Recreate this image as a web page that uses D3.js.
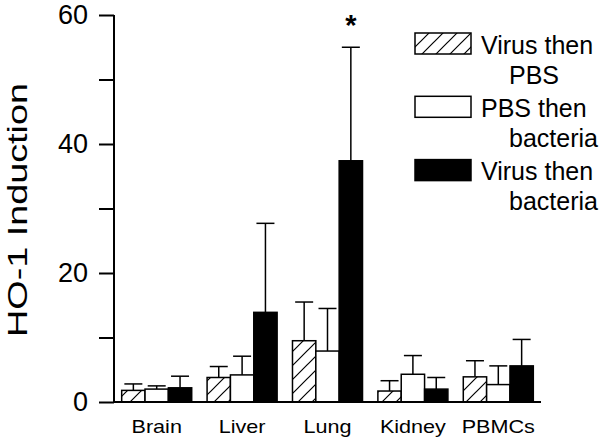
<!DOCTYPE html>
<html>
<head>
<meta charset="utf-8">
<script src="https://cdn.jsdelivr.net/npm/d3@7"></script>
<style>
	body { margin: 0; background: #fff; }
	text { font-family: "Liberation Sans", Arial, sans-serif; fill: #000; }
</style>
</head>
<body>
<div id="chart"></div>
<script>
// tissue groups along the x axis
var categories = ["Brain", "Liver", "Lung", "Kidney", "PBMCs"];

// treatment groups
var series = ["Virus then PBS", "PBS then bacteria", "Virus then bacteria"];

// legend text, broken the same way as the figure
var legendLines = [["Virus then", "PBS"], ["PBS then", "bacteria"], ["Virus then", "bacteria"]];

// mean HO-1 induction per tissue, one array per treatment
var virusPBS = [1.8, 3.8, 9.5, 1.7, 3.9];
var pbsBacteria = [2.0, 4.2, 7.9, 4.3, 2.7];
var virusBacteria = [2.2, 13.9, 37.4, 2.0, 5.6];

// upper error (SEM) per tissue
var virusPBSErr = [1.0, 1.7, 6.0, 1.6, 2.5];
var pbsBacteriaErr = [0.5, 2.9, 6.6, 2.9, 2.9];
var virusBacteriaErr = [1.8, 13.8, 17.6, 1.8, 4.1];

// y axis ticks, labels only on every other one
var yTicks = [0, 10, 20, 30, 40, 50, 60];
var yLabelled = [0, 20, 40, 60];

// significance marker
var starCategory = "Lung";
var starSeries = 2;

var width = 600, height = 442;
var means = [virusPBS, pbsBacteria, virusBacteria];
var errs = [virusPBSErr, pbsBacteriaErr, virusBacteriaErr];

var svg = d3.select("#chart").append("svg")
	.attr("width", width)
	.attr("height", height);

// hatch pattern for the first treatment
var pat = svg.append("defs").append("pattern")
	.attr("id", "hatch")
	.attr("patternUnits", "userSpaceOnUse")
	.attr("width", 14)
	.attr("height", 14);
pat.append("rect").attr("width", 14).attr("height", 14).attr("fill", "#fff");
pat.append("path")
	.attr("d", "M-2,2 L2,-2 M0,14 L14,0 M12,16 L16,12")
	.attr("stroke", "#000")
	.attr("stroke-width", 1.2);

var fills = ["url(#hatch)", "#fff", "#000"];

// scales
var y = d3.scaleLinear().domain([0, 60]).range([402, 15]);
var x0 = d3.scaleBand().domain(categories).range([114, 541])
	.paddingInner(0.18).paddingOuter(0.09);
var x1 = d3.scaleBand().domain(d3.range(series.length)).range([0, x0.bandwidth()]);

// build flat rows for drawing
var rows = [];
categories.forEach(function (c, i) {
	series.forEach(function (s, j) {
		rows.push({ cat: c, s: j, v: means[j][i], e: errs[j][i] });
	});
});

// error bars first so the bar covers the stem
var eb = svg.append("g").attr("stroke", "#000").attr("stroke-width", 1.5);
rows.forEach(function (d) {
	var cx = x0(d.cat) + x1(d.s) + x1.bandwidth() / 2;
	eb.append("line")
		.attr("x1", cx).attr("x2", cx)
		.attr("y1", y(d.v)).attr("y2", y(d.v + d.e));
	eb.append("line")
		.attr("x1", cx - 9).attr("x2", cx + 9)
		.attr("y1", y(d.v + d.e)).attr("y2", y(d.v + d.e));
});

// bars
svg.append("g").selectAll("rect")
	.data(rows)
	.enter().append("rect")
	.attr("x", function (d) { return x0(d.cat) + x1(d.s); })
	.attr("y", function (d) { return y(d.v); })
	.attr("width", x1.bandwidth())
	.attr("height", function (d) { return y(0) - y(d.v); })
	.attr("fill", function (d) { return fills[d.s]; })
	.attr("stroke", "#000")
	.attr("stroke-width", 1.5);

// y axis
var yAxis = svg.append("g")
	.attr("transform", "translate(114,0)")
	.call(d3.axisLeft(y)
		.tickValues(yTicks)
		.tickSize(15)
		.tickPadding(11)
		.tickFormat(function (d) { return yLabelled.indexOf(d) >= 0 ? d : ""; }));
yAxis.select(".domain").attr("stroke-width", 2).attr("d", "M0,15 V402");
yAxis.selectAll(".tick line").attr("stroke-width", 2);
yAxis.selectAll(".tick text")
	.attr("font-size", 27)
	.attr("font-family", "Liberation Sans, Arial, sans-serif");

// x baseline, no ticks
svg.append("line")
	.attr("x1", 113).attr("x2", 541)
	.attr("y1", y(0)).attr("y2", y(0))
	.attr("stroke", "#000").attr("stroke-width", 2);

// category labels (slightly wide lettering)
svg.append("g").selectAll("text")
	.data(categories)
	.enter().append("text")
	.attr("transform", function (d) {
		return "translate(" + (x0(d) + x0.bandwidth() / 2) + ",433) scale(1.2,1)";
	})
	.attr("text-anchor", "middle")
	.attr("font-size", 18)
	.text(function (d) { return d; });

// y axis title
svg.append("text")
	.attr("transform", "translate(27,210) rotate(-90)")
	.attr("text-anchor", "middle")
	.attr("font-size", 28)
	.attr("textLength", 254)
	.attr("lengthAdjust", "spacingAndGlyphs")
	.text("HO-1 Induction");

// asterisk over the lung result
var starX = x0(starCategory) + x1(starSeries) + x1.bandwidth() / 2;
svg.append("text")
	.attr("x", starX)
	.attr("y", 35)
	.attr("text-anchor", "middle")
	.attr("font-size", 29)
	.attr("font-weight", "bold")
	.text("*");

// legend
var lg = svg.append("g");
legendLines.forEach(function (lines, i) {
	var top = 33 + i * 63.3;
	lg.append("rect")
		.attr("x", 415).attr("y", top)
		.attr("width", 56).attr("height", 21)
		.attr("fill", fills[i])
		.attr("stroke", "#000")
		.attr("stroke-width", 1.5);
	lg.append("text")
		.attr("x", 481).attr("y", top + 20.5)
		.attr("font-size", 25)
		.text(lines[0]);
	lg.append("text")
		.attr("x", 509).attr("y", top + 50.5)
		.attr("font-size", 25)
		.text(lines[1]);
});
</script>
</body>
</html>
